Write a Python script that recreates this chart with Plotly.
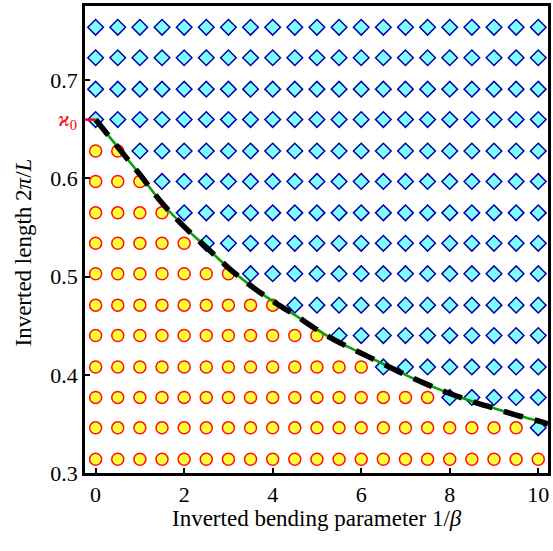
import plotly.graph_objects as go

# ---- data ----
col_x = [0, 0.5, 1, 1.5, 2, 2.5, 3, 3.5, 4, 4.5, 5, 5.5, 6, 6.5, 7, 7.5, 8, 8.5, 9, 9.5, 10]
row_y = [0.314, 0.346, 0.377, 0.408, 0.440, 0.471, 0.503, 0.534, 0.565,
         0.597, 0.628, 0.660, 0.691, 0.723, 0.754]
# number of circle (stable) points in each row, counted from the left
circles_per_row = [21, 20, 16, 13, 11, 9, 7, 5, 4, 3, 2, 0, 0, 0, 0]

curve_x = [0, 0.5, 1.0, 1.5, 2.0, 2.5, 3.0, 3.5, 4.0, 4.5, 5.0, 5.5, 6.0, 6.5,
           7.0, 7.5, 8.0, 8.5, 9.0, 9.5, 10.0, 10.22]
curve_y = [0.660, 0.632, 0.604, 0.575, 0.551, 0.530, 0.509, 0.491, 0.475, 0.461,
           0.446, 0.433, 0.422, 0.411, 0.400, 0.390, 0.381, 0.373, 0.366, 0.359,
           0.353, 0.350]

kappa0 = 0.660
x_ticks = [0, 2, 4, 6, 8, 10]
y_ticks = [0.3, 0.4, 0.5, 0.6, 0.7]

# ---- split points ----
cx, cy, dx, dy = [], [], [], []
for y, n in zip(row_y, circles_per_row):
    for i, x in enumerate(col_x):
        if i < n:
            cx.append(x); cy.append(y)
        else:
            dx.append(x); dy.append(y)

FONT = "Liberation Serif"
fig = go.Figure()
fig.add_trace(go.Scatter(x=cx, y=cy, mode="markers",
                         marker=dict(symbol="circle", size=12, color="#FFFF3A",
                                     line=dict(color="#FF1010", width=1.5))))
fig.add_trace(go.Scatter(x=dx, y=dy, mode="markers",
                         marker=dict(symbol="diamond", size=12, color="#7FFFFF",
                                     line=dict(color="#0000A8", width=1.5))))
fig.add_trace(go.Scatter(x=curve_x, y=curve_y, mode="lines",
                         line=dict(color="#0AA00A", width=2.6, shape="spline")))
fig.add_trace(go.Scatter(x=curve_x, y=curve_y, mode="lines",
                         line=dict(color="black", width=5.5, dash="20px,12px", shape="spline")))
fig.add_trace(go.Scatter(x=[-0.24, 0], y=[kappa0, kappa0], mode="lines",
                         line=dict(color="#FF0000", width=2.5), cliponaxis=False))

axis_common = dict(showline=True, mirror=True, linecolor="black", linewidth=2.5,
                   ticks="inside", ticklen=5, tickwidth=2, tickcolor="black",
                   showgrid=False, zeroline=False,
                   tickfont=dict(family=FONT, size=22, color="black"))
fig.update_xaxes(range=[-0.24, 10.22], tickvals=x_ticks, **axis_common)
fig.update_yaxes(range=[0.3, 0.7757], tickvals=y_ticks, **axis_common)

fig.add_annotation(text="Inverted bending parameter 1/<i>β</i>", xref="paper", yref="paper",
                   x=0.5, y=-0.097, xanchor="center", yanchor="middle", showarrow=False,
                   font=dict(family=FONT, size=23, color="black"))
fig.add_annotation(text="Inverted length 2<i>π</i>/<i>L</i>", xref="paper", yref="paper",
                   x=-0.133, y=0.473, xanchor="center", yanchor="middle", textangle=-90,
                   showarrow=False, font=dict(family=FONT, size=23, color="black"))
fig.add_annotation(text="<i>ϰ</i><sub>0</sub>", xref="paper", yref="y",
                   x=-0.012, y=kappa0, xanchor="right", yanchor="middle", showarrow=False,
                   font=dict(family=FONT, size=21, color="#FF0000"))

fig.update_layout(width=553, height=551, showlegend=False,
                  margin=dict(l=85, r=2, t=6, b=78),
                  plot_bgcolor="white", paper_bgcolor="white")
fig.write_html("out.html", config={"displayModeBar": False},
               post_script="document.body.style.margin='0px';")
